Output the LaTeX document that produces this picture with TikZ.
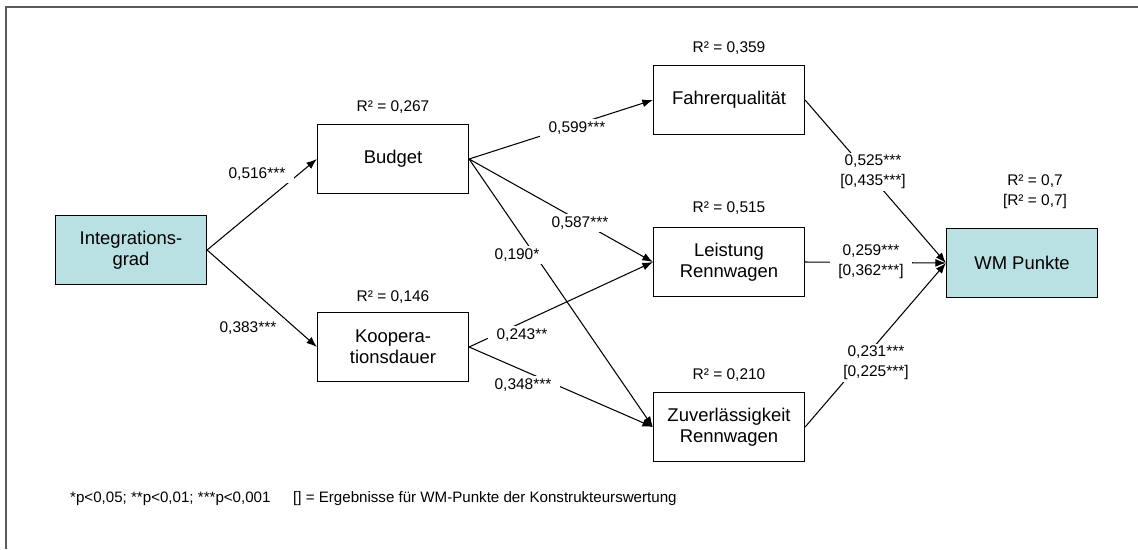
\documentclass[tikz,border=0pt]{standalone}
\usepackage{fontspec}
\setmainfont{Liberation Sans}
\usetikzlibrary{arrows.meta}
\definecolor{boxblue}{RGB}{185,224,227}
\definecolor{framegray}{RGB}{90,90,90}
\begin{document}
\begin{tikzpicture}[x=0.02cm, y=-0.02cm, >={Latex[length=6pt,width=4.5pt]},
		construct/.style={draw, line width=0.7pt, minimum width=3.02cm, minimum height=1.38cm, align=center, font=\fontsize{10.5}{12}\selectfont},
		latent/.style={construct, fill=boxblue},
		path/.style={->, line width=0.6pt},
		coef/.style={fill=white, inner xsep=5pt, inner ysep=1.5pt, align=center, font=\fontsize{8.8}{11.2}\selectfont},
		rsq/.style={align=center, font=\fontsize{8.8}{11.2}\selectfont}]
		\useasboundingbox (0,0) rectangle (1138,549);
		\draw[framegray, line width=1pt] (1138,7) -- (6,7) -- (6,549);

		\node (ig) [latent] at (131,250) {Integrations-\\grad};
		\node (bu) [construct] at (393,159) {Budget};
		\node (ko) [construct] at (393,347) {Koopera-\\tionsdauer};
		\node (fq) [construct] at (729,100) {Fahrerqualität};
		\node (lr) [construct] at (729,262) {Leistung\\Rennwagen};
		\node (zr) [construct] at (729,427) {Zuverlässigkeit\\Rennwagen};
		\node (wm) [latent] at (1022,263) {WM Punkte};

		\node (rbu) [rsq] at (393,107) {R² = 0,267};
		\node (rko) [rsq] at (393,297) {R² = 0,146};
		\node (rfq) [rsq] at (729,48) {R² = 0,359};
		\node (rlr) [rsq] at (729,208) {R² = 0,515};
		\node (rzr) [rsq] at (729,375) {R² = 0,210};
		\node (rwm) [rsq] at (1035,192) {R² = 0,7\\{}[R² = 0,7]};

		\draw[path] (ig.east)--(bu.west);
		\draw[path] (ig.east)--(ko.west);
		\draw[path] (bu.east)--(fq.west);
		\draw[path] (bu.east)--(lr.west);
		\draw[path] (bu.east)--(zr.west);
		\draw[path] (ko.east)--(lr.west);
		\draw[path] (ko.east)--(zr.west);
		\draw[path] (fq.east)--(wm.west);
		\draw[path] (lr.east)--(wm.west);
		\draw[path] (zr.east)--(wm.west);

		\node (c1) [coef] at (257,174) {0,516***};
		\node (c2) [coef] at (248,328) {0,383***};
		\node (c3) [coef] at (577,128) {0,599***};
		\node (c4) [coef] at (580,223) {0,587***};
		\node (c5) [coef] at (517,255) {0,190*};
		\node (c6) [coef] at (522,335) {0,243**};
		\node (c7) [coef] at (523,385) {0,348***};
		\node (c8) [coef] at (873,172) {0,525***\\{}[0,435***]};
		\node (c9) [coef] at (871,262) {0,259***\\{}[0,362***]};
		\node (c10) [coef] at (876,363) {0,231***\\{}[0,225***]};

		\node (note) [anchor=west, font=\fontsize{8.6}{10}\selectfont] at (64,499) {*p<0,05; **p<0,01; ***p<0,001\hspace{1.5em}[] = Ergebnisse für WM-Punkte der Konstrukteurswertung};
	\end{tikzpicture}
\end{document}
